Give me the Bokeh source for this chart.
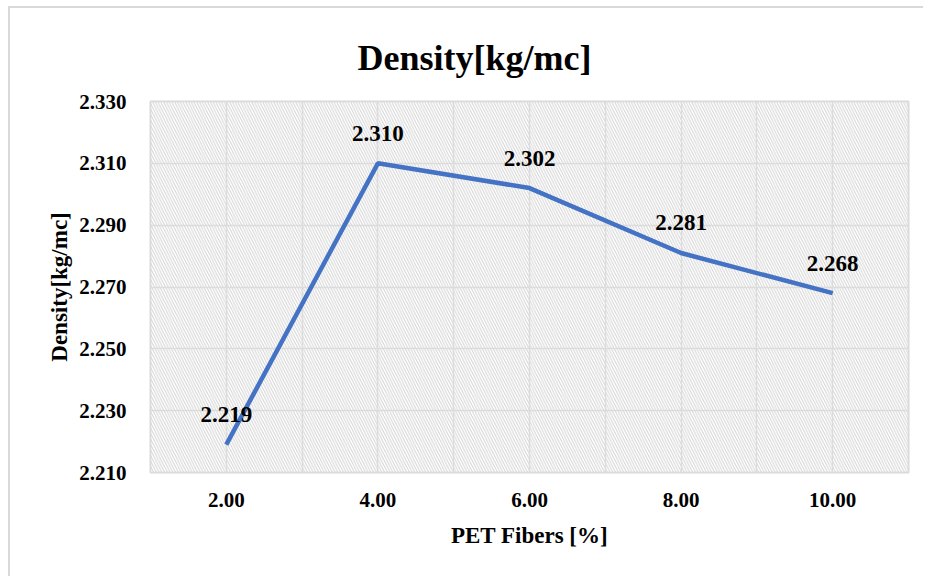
from bokeh.plotting import figure
from bokeh.models import Range1d, FixedTicker, ColumnDataSource, LabelSet, BoxAnnotation, CustomJSTickFormatter
from bokeh.embed import file_html
from bokeh.resources import INLINE

# Data
pet_fibers = [2.0, 4.0, 6.0, 8.0, 10.0]
density = [2.219, 2.310, 2.302, 2.281, 2.268]
density_labels = ["2.219", "2.310", "2.302", "2.281", "2.268"]
x_tick_labels = {2: "2.00", 4: "4.00", 6: "6.00", 8: "8.00", 10: "10.00"}
y_ticks = [2.21, 2.23, 2.25, 2.27, 2.29, 2.31, 2.33]
chart_title = "Density[kg/mc]"

FONT = "Liberation Serif"

p = figure(width=915, height=570, output_backend="svg", toolbar_location=None,
           x_range=Range1d(1, 11), y_range=Range1d(2.21, 2.33),
           min_border_left=140, min_border_right=17, min_border_top=93, min_border_bottom=106,
           styles={"margin-left": "8px", "margin-top": "6px",
                   "border-left": "2px solid #d9d9d9", "border-top": "2px solid #d9d9d9"})

p.title.text = chart_title
p.title.align = "left"
p.title.offset = 207
p.title.text_font = FONT
p.title.text_font_size = "36px"
p.title.text_font_style = "bold"
p.title.text_color = "black"
p.title.standoff = 47

p.outline_line_color = "#d9d9d9"
p.outline_line_width = 2

# hatched plot area
bg = BoxAnnotation(left=1, right=11, bottom=2.21, top=2.33, fill_color="white",
                   hatch_pattern="\\", hatch_color="#d3d3d3", hatch_scale=5.5, hatch_weight=1,
                   line_color=None, level="image")
p.add_layout(bg)

# grids
p.xgrid.ticker = FixedTicker(ticks=[1, 2, 3, 4, 5, 6, 7, 8, 9, 10, 11])
p.ygrid.ticker = FixedTicker(ticks=y_ticks)
for g in (p.xgrid, p.ygrid):
    g.grid_line_color = "#dcdcdc"
    g.grid_line_width = 1.5

# axes
p.xaxis.ticker = FixedTicker(ticks=pet_fibers)
p.xaxis.major_label_overrides = {float(k): v for k, v in x_tick_labels.items()} | {k: v for k, v in x_tick_labels.items()}
p.yaxis.ticker = FixedTicker(ticks=y_ticks)
p.yaxis.formatter = CustomJSTickFormatter(code="return tick.toFixed(3);")
for ax in (p.xaxis[0], p.yaxis[0]):
    ax.axis_line_color = None
    ax.major_tick_line_color = None
    ax.minor_tick_line_color = None
    ax.major_label_text_font = FONT
    ax.major_label_text_font_style = "bold"
    ax.major_label_text_font_size = "21px"
    ax.major_label_text_color = "black"
    ax.axis_label_text_font = FONT
    ax.axis_label_text_font_style = "bold"
    ax.axis_label_text_font_size = "23px"
    ax.axis_label_text_color = "black"

p.xaxis.axis_label = "PET Fibers [%]"
p.yaxis.axis_label = "Density[kg/mc]"
p.xaxis.major_label_standoff = 14
p.xaxis.axis_label_standoff = 13
p.yaxis.major_label_standoff = 18
p.yaxis.axis_label_standoff = 4

src = ColumnDataSource(dict(x=pet_fibers, y=density, lab=density_labels))
p.line("x", "y", source=src, line_color="#4472C4", line_width=4.5)

labels = LabelSet(x="x", y="y", text="lab", source=src, text_align="center",
                  text_baseline="middle", y_offset=30, text_font=FONT,
                  text_font_style="bold", text_font_size="23px", text_color="black")
p.add_layout(labels)

open("out.html", "w").write(file_html(p, INLINE))
